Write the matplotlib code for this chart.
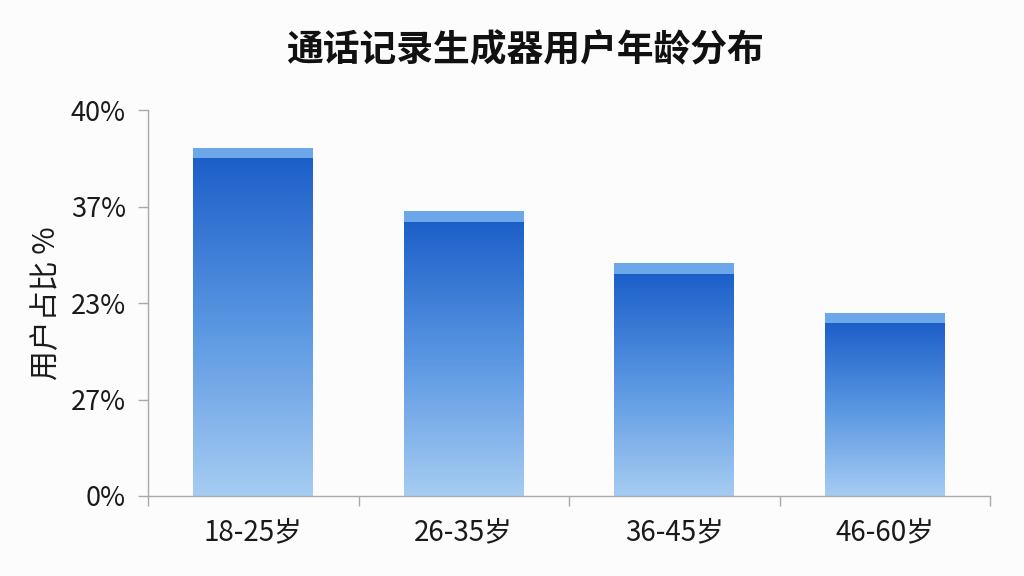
import numpy as np
import matplotlib
matplotlib.use("Agg")
import matplotlib.pyplot as plt
from matplotlib.colors import LinearSegmentedColormap
from matplotlib.patches import Rectangle

plt.rcParams['font.family'] = ['Noto Sans CJK SC', 'DejaVu Sans']

# data
age_groups = ['18-25岁', '26-35岁', '36-45岁', '46-60岁']
user_share = [36.1, 29.5, 24.1, 19.0]
ytick_values = [0, 10, 20, 30, 40]
ytick_labels = ['0%', '27%', '23%', '37%', '40%']  # labels as printed on the source chart

fig = plt.figure(figsize=(10.24, 5.76), dpi=100, facecolor='#fcfcfc')
ax = fig.add_axes([148 / 1024, 80 / 576, 842 / 1024, 386 / 576])
ax.set_facecolor('#fcfcfc')

x = np.arange(len(age_groups))
bar_w = 0.57
cap_h = 1.1

grad = LinearSegmentedColormap.from_list('bar', ['#a6ccf2', '#5a97e2', '#1c5fc9'])
ramp = np.linspace(0, 1, 256).reshape(-1, 1)

bars = ax.bar(x, user_share, width=bar_w, color='none', edgecolor='none', zorder=2)
for b, v in zip(bars, user_share):
    x0 = b.get_x()
    img = ax.imshow(ramp, cmap=grad, origin='lower', aspect='auto',
                    extent=(x0, x0 + bar_w, 0, v - cap_h), zorder=2)
    img.set_clip_path(b)
    ax.add_patch(Rectangle((x0, v - cap_h), bar_w, cap_h, facecolor='#6ca7ea',
                           edgecolor='none', zorder=3))

ax.set_xlim(-0.5, len(age_groups) - 0.5)
ax.set_ylim(0, 40)

ax.set_yticks(ytick_values)
ax.set_yticklabels(ytick_labels, fontsize=19.5, color='#1a1a1a')
ax.set_xticks(x)
ax.set_xticklabels(age_groups, fontsize=20, color='#1a1a1a')
ax.set_xticks(np.arange(-0.5, len(age_groups)), minor=True)
ax.tick_params(axis='x', which='major', length=0, pad=15)
ax.tick_params(axis='x', which='minor', length=7, color='#aaaaaa', width=1)
ax.tick_params(axis='y', length=7, color='#aaaaaa', width=1, pad=9)

for side in ['top', 'right']:
    ax.spines[side].set_visible(False)
for side in ['left', 'bottom']:
    ax.spines[side].set_color('#aaaaaa')
    ax.spines[side].set_linewidth(1)

ax.set_ylabel('用户占比 %', fontsize=21.5, color='#1a1a1a', labelpad=6)
fig.text(525 / 1024, 1 - 51 / 576, '通话记录生成器用户年龄分布', ha='center', va='center',
         fontsize=26.5, fontweight='bold', color='#111111')

fig.savefig('out.png', dpi=100, facecolor=fig.get_facecolor())
